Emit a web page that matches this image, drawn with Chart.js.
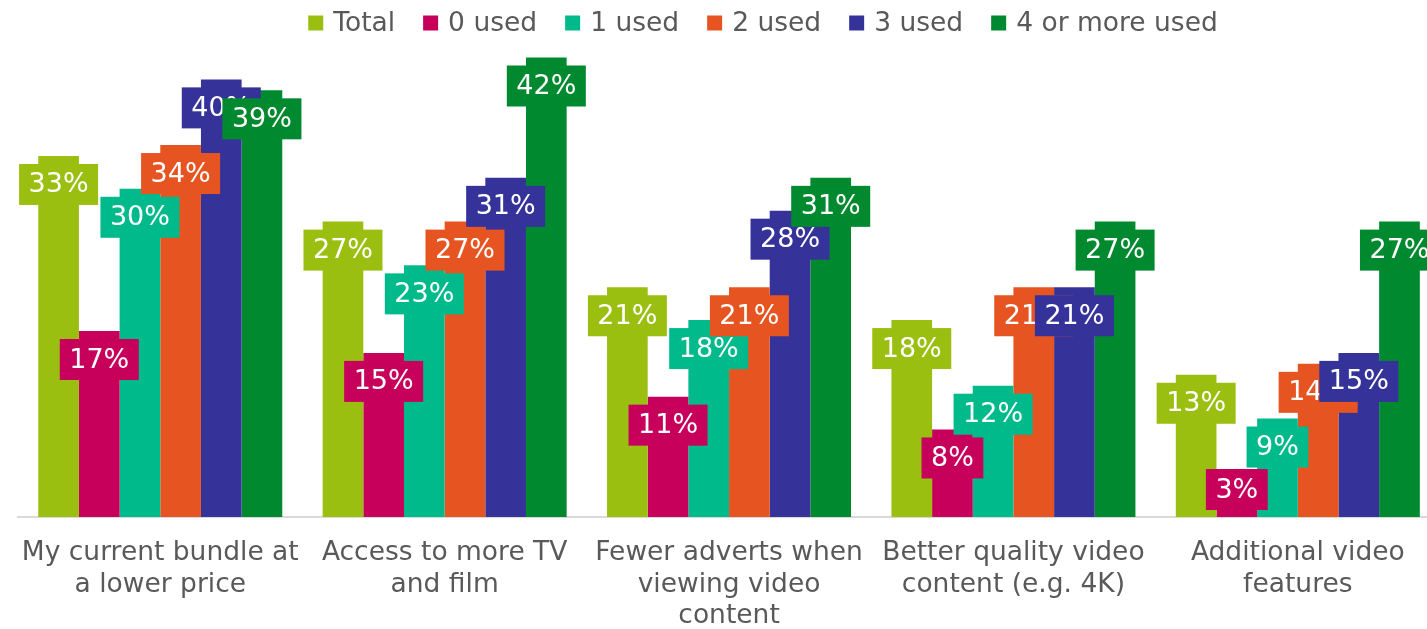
<!DOCTYPE html>
<html>
<head>
<meta charset="utf-8">
<script src="https://cdn.jsdelivr.net/npm/chart.js@4.4.1/dist/chart.umd.min.js"></script>
<style>
  html, body { margin: 0; padding: 0; background: #ffffff; overflow: hidden; }
  #wrap { width: 1427px; height: 629px; overflow: hidden; position: relative; }
  canvas { position: absolute; left: 0; top: 0; }
</style>
</head>
<body>
<div id="wrap"><canvas id="chart" width="1526" height="629"></canvas></div>
<script>
// Reasons for switching, share of respondents by number of services used
const categories = [
  ['My current bundle at', 'a lower price'],
  ['Access to more TV', 'and film'],
  ['Fewer adverts when', 'viewing video', 'content'],
  ['Better quality video', 'content (e.g. 4K)'],
  ['Additional video', 'features']
];
const seriesNames = ['Total', '0 used', '1 used', '2 used', '3 used', '4 or more used'];
const total      = [33, 27, 21, 18, 13];
const used0      = [17, 15, 11, 8, 3];
const used1      = [30, 23, 18, 12, 9];
const used2      = [34, 27, 21, 21, 14];
const used3      = [40, 31, 28, 21, 15];
const used4plus  = [39, 42, 31, 27, 27];
const seriesColors = ['#9ABF10', '#C7005B', '#00BA8C', '#E65521', '#353399', '#00892E'];

const seriesValues = [total, used0, used1, used2, used3, used4plus];

const FONT = '"DejaVu Sans", Verdana, sans-serif';
const TEXT_GREY = '#595959';

// Single-row legend across the top: square swatch, short gap, series name
const topLegend = {
  id: 'topLegend',
  afterDraw(chart) {
    const ctx = chart.ctx;
    const box = 15, gapText = 10, gapItem = 28, cy = 23;
    ctx.save();
    ctx.font = '26.5px ' + FONT;
    ctx.textBaseline = 'middle';
    ctx.textAlign = 'left';
    const items = chart.data.datasets.map(ds => ({
      label: ds.label, color: ds.backgroundColor,
      w: box + gapText + ctx.measureText(ds.label).width
    }));
    const totalW = items.reduce((s, it) => s + it.w, 0) + gapItem * (items.length - 1);
    let x = chart.width / 2 - totalW / 2;
    items.forEach(it => {
      ctx.fillStyle = it.color;
      ctx.fillRect(x, cy - box / 2, box, box);
      ctx.fillStyle = TEXT_GREY;
      ctx.fillText(it.label, x + box + gapText, cy + 1);
      x += it.w + gapItem;
    });
    ctx.restore();
  }
};

// Value boxes: coloured tag with white percentage, hanging just inside the top of each bar
const valueTags = {
  id: 'valueTags',
  afterDatasetsDraw(chart) {
    const ctx = chart.ctx;
    const bottom = chart.chartArea.bottom;
    ctx.save();
    ctx.font = '27px ' + FONT;
    ctx.textAlign = 'center';
    ctx.textBaseline = 'middle';
    chart.data.datasets.forEach((ds, i) => {
      const meta = chart.getDatasetMeta(i);
      meta.data.forEach((bar, j) => {
        const text = ds.data[j] + '%';
        const w = ctx.measureText(text).width + 19;
        const h = 41;
        let top = bar.y + 8;
        if (top + h > bottom - 7) top = bottom - 7 - h;
        ctx.fillStyle = ds.backgroundColor;
        ctx.fillRect(bar.x - w / 2, top, w, h);
        ctx.fillStyle = '#ffffff';
        ctx.fillText(text, bar.x, top + h / 2 + 1);
      });
    });
    ctx.restore();
  }
};

new Chart(document.getElementById('chart'), {
  type: 'bar',
  data: {
    labels: categories,
    datasets: seriesNames.map((name, i) => ({
      label: name,
      data: seriesValues[i],
      backgroundColor: seriesColors[i],
      borderWidth: 0,
      categoryPercentage: 0.858,
      barPercentage: 1.0
    }))
  },
  options: {
    responsive: false,
    animation: false,
    devicePixelRatio: 1,
    layout: { padding: { left: 18, right: 86, top: 40, bottom: 0 } },
    plugins: {
      legend: { display: false },
      tooltip: { enabled: false }
    },
    scales: {
      x: {
        grid: { display: false, drawTicks: false },
        border: { display: true, color: '#d9d9d9', width: 2 },
        ticks: {
          font: { family: FONT, size: 26.5 },
          color: TEXT_GREY,
          padding: 20,
          maxRotation: 0,
          autoSkip: false
        },
        afterFit(scale) { scale.height = 112; }
      },
      y: {
        display: false,
        min: 0,
        max: 43.6
      }
    }
  },
  plugins: [valueTags, topLegend]
});
</script>
</body>
</html>
